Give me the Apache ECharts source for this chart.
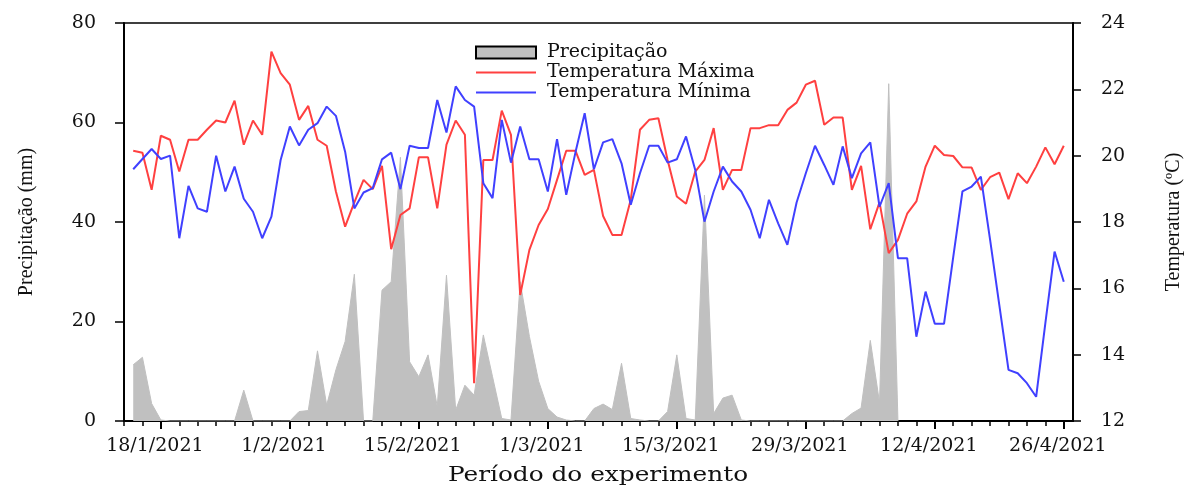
<!DOCTYPE html>
<html>
<head>
<meta charset="utf-8">
<script src="https://cdn.jsdelivr.net/npm/echarts@6/dist/echarts.min.js"></script>
<style>
  html, body { margin: 0; padding: 0; background: #fff; }
  #chart { width: 1190px; height: 486px; }
</style>
</head>
<body>
<div id="chart"></div>
<script>
// eixo x: um dia por categoria, de 14/1 a 27/4
const startDate = new Date(2021, 0, 14)
const dayCount = 104
const labelDates = ['18/1/2021', '1/2/2021', '15/2/2021', '1/3/2021', '15/3/2021', '29/3/2021', '12/4/2021', '26/4/2021']

// dados diários de 15/1 a 26/4
const tempMax = [
  20.15, 20.09, 18.97, 20.6, 20.48, 19.52, 20.48, 20.48, 20.78, 21.06,
  21.0, 21.66, 20.33, 21.06, 20.63, 23.14, 22.49, 22.14, 21.08, 21.5,
  20.48, 20.3, 18.92, 17.86, 18.59, 19.27, 18.99, 19.69, 17.18, 18.21,
  18.41, 19.95, 19.95, 18.41, 20.33, 21.06, 20.63, 13.14, 19.87, 19.87,
  21.36, 20.63, 15.8, 17.16, 17.91, 18.39, 19.27, 20.15, 20.15, 19.42,
  19.57, 18.18, 17.61, 17.61, 18.67, 20.78, 21.08, 21.13, 19.87, 18.77,
  18.55, 19.52, 19.87, 20.83, 18.97, 19.57, 19.57, 20.83, 20.83, 20.92,
  20.92, 21.38, 21.6, 22.14, 22.26, 20.93, 21.15, 21.15, 18.97, 19.69,
  17.78, 18.59, 17.06, 17.46, 18.25, 18.62, 19.67, 20.3, 20.02, 19.99,
  19.65, 19.64, 18.97, 19.35, 19.49, 18.69, 19.47, 19.17, 19.67, 20.25,
  19.74, 20.3
]
const tempMin = [
  19.59, 19.9, 20.2, 19.9, 20.0, 17.51, 19.09, 18.41, 18.31, 20.0,
  18.92, 19.67, 18.7, 18.31, 17.51, 18.16, 19.87, 20.88, 20.31, 20.78,
  20.98, 21.48, 21.2, 20.12, 18.41, 18.89, 19.02, 19.89, 20.09, 18.99,
  20.3, 20.23, 20.23, 21.68, 20.7, 22.09, 21.68, 21.48, 19.17, 18.72,
  21.08, 19.79, 20.88, 19.89, 19.89, 18.92, 20.5, 18.82, 20.1, 21.28,
  19.59, 20.4, 20.5, 19.77, 18.52, 19.47, 20.3, 20.3, 19.79, 19.89,
  20.58, 19.57, 18.01, 18.92, 19.67, 19.22, 18.92, 18.37, 17.51, 18.67,
  17.96, 17.31, 18.59, 19.47, 20.3, 19.72, 19.12, 20.28, 19.32, 20.07,
  20.4, 18.46, 19.17, 16.91, 16.91, 14.54, 15.9, 14.93, 14.93, 16.94,
  18.92, 19.07, 19.37, 17.47, 15.5, 13.54, 13.44, 13.14, 12.73, 14.95,
  17.11, 16.2
]
// precipitação até 12/4
const precip = [
  11.3, 12.8, 3.5, 0.2, 0, 0, 0, 0, 0, 0,
  0, 0, 6.2, 0, 0, 0, 0, 0, 1.9, 2.1,
  14.1, 3.2, 10.3, 16, 29.5, 0, 0, 26.3, 28, 53,
  11.9, 8.9, 13.3, 2.9, 29.3, 2.2, 7.2, 5.2, 17.3, 8.9,
  0.5, 0.2, 28, 17, 8, 2.5, 0.8, 0.2, 0, 0,
  2.5, 3.4, 2.3, 11.6, 0.5, 0.2, 0, 0, 1.9, 13.3,
  0.5, 0.2, 45.4, 1.5, 4.6, 5.2, 0.2, 0, 0, 0,
  0, 0, 0, 0, 0, 0, 0, 0, 1.5, 2.6,
  16.2, 3.7, 67.8, 0
]

const categories = []
for (let i = 0; i < dayCount; i++) {
  const d = new Date(startDate.getTime() + i * 86400000)
  categories.push(d.getDate() + '/' + (d.getMonth() + 1) + '/' + d.getFullYear())
}

// alinha os dados com as categorias (primeiro dia vazio)
const pad = (arr) => {
  const out = [null].concat(arr)
  while (out.length < dayCount) out.push(null)
  return out
}

const serif = 'DejaVu Serif'
const isLabel = (index, value) => labelDates.indexOf(value) >= 0
// esconde o símbolo no ícone da legenda das linhas
const noSymbol = { color: 'rgba(0,0,0,0)', borderWidth: 0, opacity: 0 }

const chart = echarts.init(document.getElementById('chart'))

chart.setOption({
  animation: false,
  grid: {
    left: 124, right: 117, top: 23, bottom: 65,
    show: true, borderColor: '#000', borderWidth: 1.5
  },
  legend: {
    orient: 'vertical',
    left: 470,
    top: 38,
    itemWidth: 60,
    itemHeight: 12,
    itemGap: 1,
    textStyle: { fontFamily: serif, fontSize: 19, color: '#111', lineHeight: 19, padding: [0, 0, 0, 6] },
    data: [
      { name: 'Precipitação', icon: 'rect', itemStyle: { color: '#c0c0c0', borderColor: '#000', borderWidth: 2 } },
      { name: 'Temperatura Máxima', itemStyle: noSymbol },
      { name: 'Temperatura Mínima', itemStyle: noSymbol }
    ]
  },
  xAxis: [
    {
      type: 'category',
      position: 'bottom',
      data: categories,
      boundaryGap: false,
      axisLine: { lineStyle: { color: '#000', width: 2 } },
      axisTick: { interval: (i) => i % 2 === 0, length: 5, lineStyle: { color: '#000', width: 1.5 } },
      axisLabel: { show: false },
      splitLine: { show: false }
    },
    {
      type: 'category',
      position: 'bottom',
      data: categories,
      boundaryGap: false,
      axisLine: { show: false },
      axisTick: { interval: isLabel, length: 8, lineStyle: { color: '#000', width: 2 } },
      axisLabel: {
        interval: isLabel,
        margin: 16,
        padding: [0, 12, 0, 0],
        fontFamily: serif, fontSize: 19, color: '#111'
      },
      splitLine: { show: false }
    }
  ],
  yAxis: [
    {
      type: 'value',
      position: 'left',
      min: 0, max: 80, interval: 20,
      axisLine: { show: true, lineStyle: { color: '#000', width: 2 } },
      axisTick: { show: true, length: 9, lineStyle: { color: '#000', width: 1.5 } },
      axisLabel: { margin: 28, fontFamily: serif, fontSize: 19, color: '#111' },
      splitLine: { show: false }
    },
    {
      type: 'value',
      position: 'right',
      min: 12, max: 24, interval: 2,
      axisLine: { show: true, lineStyle: { color: '#000', width: 2 } },
      axisTick: { show: true, length: 8, lineStyle: { color: '#000', width: 1.5 } },
      axisLabel: { margin: 28, fontFamily: serif, fontSize: 19, color: '#111' },
      splitLine: { show: false }
    }
  ],
  graphic: [
    {
      type: 'text', x: 27, y: 222, rotation: Math.PI / 2,
      style: { text: 'Precipitação (mm)', font: '20px "Liberation Serif"', fill: '#111', align: 'center', verticalAlign: 'middle' }
    },
    {
      type: 'text', x: 1174, y: 222, rotation: Math.PI / 2,
      style: { text: 'Temperatura (ºC)', font: '20px "Liberation Serif"', fill: '#111', align: 'center', verticalAlign: 'middle' }
    },
    {
      type: 'text', x: 598, y: 476, scaleX: 1.18,
      style: { text: 'Período do experimento', font: '21px "DejaVu Serif"', fill: '#111', align: 'center', verticalAlign: 'middle' }
    }
  ],
  series: [
    {
      name: 'Precipitação',
      type: 'line',
      yAxisIndex: 0,
      data: pad(precip),
      symbol: 'none',
      lineStyle: { color: '#c0c0c0', width: 1 },
      itemStyle: { color: '#c0c0c0' },
      areaStyle: { color: '#c0c0c0', opacity: 1 }
    },
    {
      name: 'Temperatura Máxima',
      type: 'line',
      yAxisIndex: 1,
      data: pad(tempMax),
      symbol: 'none',
      lineStyle: { color: '#ff4040', width: 2 },
      itemStyle: { color: '#ff4040' }
    },
    {
      name: 'Temperatura Mínima',
      type: 'line',
      yAxisIndex: 1,
      data: pad(tempMin),
      symbol: 'none',
      lineStyle: { color: '#4040ff', width: 2 },
      itemStyle: { color: '#4040ff' }
    }
  ]
})
</script>
</body>
</html>
